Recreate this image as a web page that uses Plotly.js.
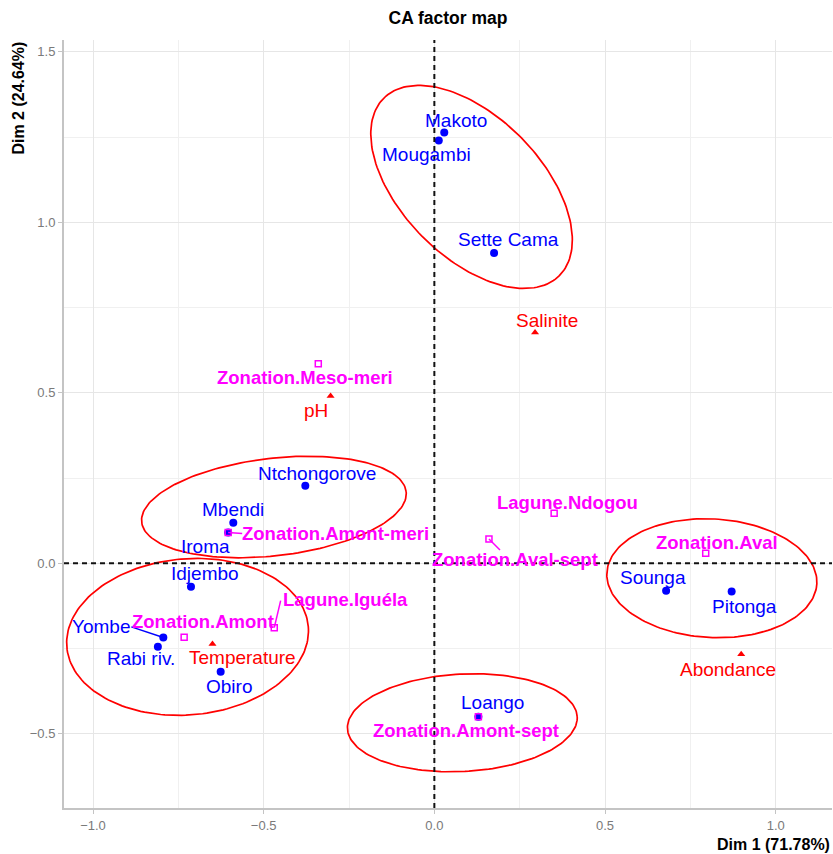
<!DOCTYPE html>
<html><head><meta charset="utf-8">
<script src="https://cdn.plot.ly/plotly-3.0.1.min.js"></script>
<style>html,body{margin:0;padding:0;background:#fff}#chart{width:833px;height:854px}</style>
</head><body><div id="chart"></div>
<script>
// ---- data ----
const rowNames = ['Makoto','Mougambi','Sette Cama','Ntchongorove','Mbendi','Iroma','Idjembo','Yombe','Rabi riv.','Obiro','Sounga','Pitonga','Loango'];
const rowDim1 = [0.029,0.013,0.175,-0.378,-0.589,-0.604,-0.713,-0.794,-0.810,-0.626,0.679,0.871,0.129];
const rowDim2 = [1.264,1.240,0.910,0.227,0.119,0.090,-0.069,-0.218,-0.245,-0.318,-0.081,-0.083,-0.450];

const colNames = ['Zonation.Meso-meri','Lagune.Ndogou','Zonation.Aval-sept','Zonation.Amont-meri','Zonation.Amont','Lagune.Iguéla','Zonation.Aval','Zonation.Amont-sept'];
const colDim1 = [-0.340,0.351,0.160,-0.604,-0.733,-0.469,0.795,0.129];
const colDim2 = [0.585,0.147,0.071,0.090,-0.217,-0.189,0.029,-0.450];

const supNames = ['Salinite','pH','Temperature','Abondance'];
const supDim1 = [0.295,-0.304,-0.650,0.899];
const supDim2 = [0.677,0.491,-0.237,-0.267];

// group ellipses: centre, semi-axes, rotation (degrees)
const ellCx = [0.109,-0.470,-0.723,0.082,0.813];
const ellCy = [1.104,0.165,-0.216,-0.468,-0.044];
const ellA = [0.366,0.390,0.355,0.337,0.308];
const ellB = [0.205,0.143,0.229,0.143,0.174];
const ellAngle = [-45.5,6.6,4.9,3,-3];

const xTitle = 'Dim 1 (71.78%)';
const yTitle = 'Dim 2 (24.64%)';
const chartTitle = 'CA factor map';

// ---- label placement (pixel offsets, right / down) ----
const rowLabelOff = [[12,-12],[-12.7,13.7],[14,-14],[12,-12],[0,-13],[-23,14],[14,-13],[-62,-11],[-17,11.5],[8.5,14.5],[-13.5,-13],[13,15],[14.5,-14]];
const colLabelOff = [[-13.5,13.3],[13.5,-10.6],[26,20],[107,0.6],[19.3,-15.6],[71.7,-27.7],[11.3,-10.6],[-12.8,14.3]];
const supLabelOff = [[12,-12],[-14.7,14.7],[30,13.7],[-13.5,15.7]];
// connector segments: [group, index, dx, dy]
const segs = [['row',7,-32,-10.7],['col',3,14,1],['col',2,11,11],['col',5,6.4,-27]];

const FONT = 'Liberation Sans, Arial, sans-serif';
const BLUE = '#0000FF', MAG = '#FF00FF', RED = '#FF0000';

const traces = [];
// ellipses
for (let k = 0; k < ellCx.length; k++) {
  const xs = [], ys = [];
  const th = ellAngle[k] * Math.PI / 180;
  for (let i = 0; i <= 180; i++) {
    const t = 2 * Math.PI * i / 180;
    const u = ellA[k] * Math.cos(t), v = ellB[k] * Math.sin(t);
    xs.push(ellCx[k] + u * Math.cos(th) - v * Math.sin(th));
    ys.push(ellCy[k] + u * Math.sin(th) + v * Math.cos(th));
  }
  traces.push({x: xs, y: ys, mode: 'lines', line: {color: RED, width: 1.7}, hoverinfo: 'skip', showlegend: false});
}
traces.push({x: rowDim1, y: rowDim2, text: rowNames, mode: 'markers', marker: {color: BLUE, size: 8, symbol: 'circle'}, showlegend: false});
traces.push({x: colDim1, y: colDim2, text: colNames, mode: 'markers', marker: {color: MAG, size: 6, symbol: 'square-open', line: {color: MAG, width: 1.5}}, showlegend: false});
traces.push({x: supDim1, y: supDim2, text: supNames, mode: 'markers', marker: {color: RED, size: 7, symbol: 'triangle-up'}, showlegend: false});

const annotations = [];
function addLabels(names, xs, ys, offs, color, bold, size) {
  names.forEach((n, i) => {
    annotations.push({x: xs[i], y: ys[i], xref: 'x', yref: 'y', text: bold ? '<b>' + n + '</b>' : n,
      showarrow: false, xshift: offs[i][0], yshift: -offs[i][1], xanchor: 'center', yanchor: 'middle',
      font: {family: FONT, size: size, color: color}});
  });
}
addLabels(rowNames, rowDim1, rowDim2, rowLabelOff, BLUE, false, 19);
addLabels(colNames, colDim1, colDim2, colLabelOff, MAG, true, 18.5);
addLabels(supNames, supDim1, supDim2, supLabelOff, RED, false, 19);

annotations.push({xref: 'paper', yref: 'paper', x: 1, y: -0.048, xanchor: 'right', yanchor: 'middle', showarrow: false,
  text: '<b>' + xTitle + '</b>', font: {family: FONT, size: 16, color: '#000'}});
annotations.push({xref: 'paper', yref: 'paper', x: -0.0586, y: 0.925, xanchor: 'center', yanchor: 'middle', showarrow: false,
  textangle: -90, text: '<b>' + yTitle + '</b>', font: {family: FONT, size: 16, color: '#000'}});

const shapes = [
  {type: 'line', xref: 'x', yref: 'paper', x0: 0, x1: 0, y0: 0, y1: 1, line: {color: '#111', width: 2, dash: '5px,4px'}, layer: 'above'},
  {type: 'line', xref: 'paper', yref: 'y', x0: 0, x1: 1, y0: 0, y1: 0, line: {color: '#111', width: 2, dash: '5px,4px'}, layer: 'above'}
];
segs.forEach(s => {
  const xs = s[0] === 'row' ? rowDim1 : colDim1, ys = s[0] === 'row' ? rowDim2 : colDim2;
  shapes.push({type: 'line', xref: 'x', yref: 'y', xsizemode: 'pixel', ysizemode: 'pixel',
    xanchor: xs[s[1]], yanchor: ys[s[1]], x0: 0, y0: 0, x1: s[2], y1: -s[3],
    line: {color: s[0] === 'row' ? BLUE : MAG, width: 1.5}});
});

const axisCommon = {
  showgrid: true, gridcolor: '#e6e6e6', gridwidth: 1, zeroline: false,
  showline: true, linecolor: '#c4c4c4', linewidth: 2,
  ticks: 'outside', ticklen: 4, tickcolor: '#c4c4c4', tickwidth: 1,
  tickfont: {family: FONT, size: 13, color: '#7a7a7a'},
  dtick: 0.5, tick0: 0, tickformat: '.1f',
  minor: {dtick: 0.25, showgrid: true, gridcolor: '#f0f0f0', gridwidth: 1}
};

const layout = {
  width: 833, height: 854,
  margin: {l: 64, r: 1, t: 40, b: 46},
  paper_bgcolor: '#fff', plot_bgcolor: '#fff',
  title: {text: '<b>' + chartTitle + '</b>', x: 0.5, xref: 'paper', y: 1 - 18 / 854, yref: 'container', yanchor: 'middle',
    font: {family: FONT, size: 17.5, color: '#000'}},
  xaxis: Object.assign({}, axisCommon, {range: [-1.085, 1.165]}),
  yaxis: Object.assign({}, axisCommon, {range: [-0.718, 1.535]}),
  annotations: annotations, shapes: shapes, showlegend: false,
  font: {family: FONT}
};
Plotly.newPlot('chart', traces, layout, {displayModeBar: false, staticPlot: true});
</script></body></html>
